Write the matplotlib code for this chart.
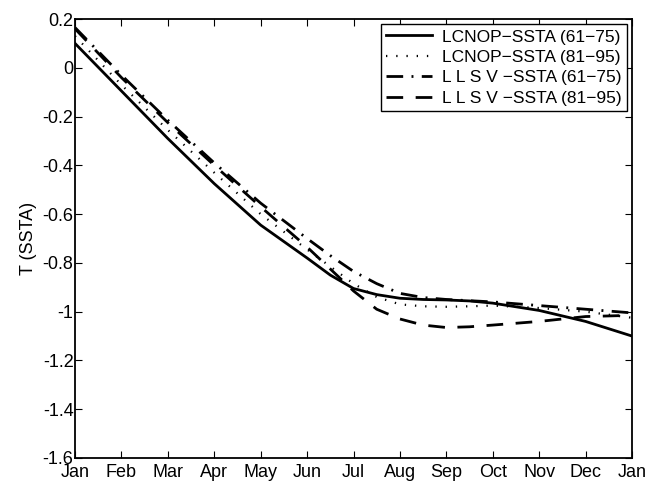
import matplotlib
matplotlib.use("Agg")
import matplotlib.pyplot as plt
import numpy as np

plt.rcParams['font.family'] = ['Liberation Sans', 'DejaVu Sans']

# time in months from Jan (0) to next Jan (12), finer around the bend
t = [0, 1, 2, 3, 4, 5, 5.5, 6, 6.5, 7, 7.5, 8, 8.5, 9, 10, 11, 12]
month_labels = ["Jan", "Feb", "Mar", "Apr", "May", "Jun", "Jul",
                "Aug", "Sep", "Oct", "Nov", "Dec", "Jan"]

lcnop_61_75 = [0.10, -0.095, -0.29, -0.475, -0.645, -0.78, -0.85, -0.905, -0.93,
               -0.945, -0.95, -0.952, -0.956, -0.965, -0.995, -1.04, -1.10]
lcnop_81_95 = [0.13, -0.07, -0.255, -0.43, -0.60, -0.745, -0.815, -0.885, -0.94,
               -0.97, -0.978, -0.98, -0.978, -0.975, -0.985, -1.00, -1.025]
llsv_61_75 = [0.165, -0.03, -0.215, -0.39, -0.555, -0.70, -0.77, -0.835, -0.885,
              -0.925, -0.942, -0.95, -0.955, -0.96, -0.975, -0.99, -1.005]
llsv_81_95 = [0.16, -0.04, -0.225, -0.40, -0.57, -0.735, -0.825, -0.915, -0.99,
              -1.03, -1.055, -1.065, -1.062, -1.055, -1.04, -1.02, -1.015]

y_ticks = [0.2, 0, -0.2, -0.4, -0.6, -0.8, -1, -1.2, -1.4, -1.6]

fig = plt.figure(figsize=(6.47, 4.83), dpi=100)
ax = fig.add_axes([75 / 647, 1 - 458 / 483, 557 / 647, 439 / 483])

ax.plot(t, lcnop_61_75, color="black", lw=2.0, linestyle="-",
        label="LCNOP\u2212SSTA (61\u221275)")
ax.plot(t, lcnop_81_95, color="black", lw=1.6, linestyle=(0, (0.6, 4.0)),
        label="LCNOP\u2212SSTA (81\u221295)")
ax.plot(t, llsv_61_75, color="black", lw=2.0, linestyle=(0, (6, 3, 0.7, 3)),
        label="L L S V \u2212SSTA (61\u221275)")
ax.plot(t, llsv_81_95, color="black", lw=2.0, linestyle=(0, (6, 4.5)),
        label="L L S V \u2212SSTA (81\u221295)")

ax.set_xlim(0, 12)
ax.set_ylim(-1.6, 0.2)
ax.set_xticks(range(13))
ax.set_xticklabels(month_labels)
ax.set_yticks(y_ticks)
ax.set_yticklabels(["%g" % v if v != 0 else "0" for v in y_ticks])
ax.set_ylabel("T (SSTA)", fontsize=13, labelpad=4)

ax.tick_params(direction="in", top=True, right=True, length=5, width=0.8,
               labelsize=13, pad=1)
ax.tick_params(axis="x", pad=4)
for s in ax.spines.values():
    s.set_linewidth(1.3)

leg = ax.legend(loc="upper right", fontsize=12.5, frameon=True, fancybox=False,
                edgecolor="black", framealpha=1, borderaxespad=0.3,
                handlelength=2.6, labelspacing=0.3, borderpad=0.3,
                handletextpad=0.6)
leg.get_frame().set_linewidth(1.0)

fig.savefig("out.png", dpi=100)
